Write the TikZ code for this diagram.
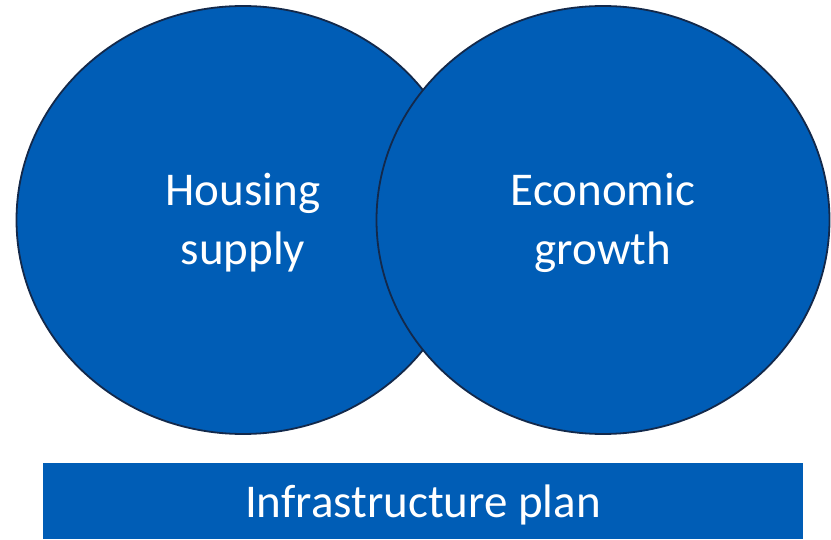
\documentclass[tikz,border=0pt]{standalone}
\usepackage{fontspec}
\setmainfont{Carlito}
\usetikzlibrary{shapes.geometric}
\definecolor{fillblue}{HTML}{005DB6}
\definecolor{edgenavy}{HTML}{13294B}
\begin{document}
\begin{tikzpicture}[x=1pt, y=1pt,
		bubble/.style={ellipse, draw=edgenavy, line width=1.8pt, fill=fillblue,
			minimum width=453pt, minimum height=428pt, inner sep=0pt,
			text=white, align=center, font=\fontsize{47}{59}\selectfont},
		planbox/.style={rectangle, fill=fillblue, minimum width=760pt, minimum height=76pt,
			inner sep=0pt, text=white, text height=36pt, text depth=4pt,
			font=\fontsize{47}{59}\selectfont}]
		\useasboundingbox (0, 0) rectangle (831, 539);
		\node[bubble] (housing) at (243, 319) {\rule{0pt}{40pt}Housing\\supply\rule[-9pt]{0pt}{9pt}};
		\node[bubble] (growth) at (603, 319) {\rule{0pt}{40pt}Economic\\growth\rule[-9pt]{0pt}{9pt}};

		\node[planbox] (plan) at (423, 38) {Infrastructure plan};
	\end{tikzpicture}
\end{document}
